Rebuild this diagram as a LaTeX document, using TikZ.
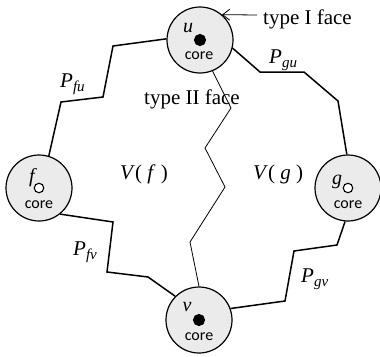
\documentclass[tikz,border=0pt]{standalone}
\usepackage{fontspec}
\setmainfont{Liberation Serif}
\newfontfamily\corefont{Carlito}
\usepackage{tikz}
\usetikzlibrary{arrows.meta}
\definecolor{INK}{RGB}{0,0,0}
\definecolor{CELL}{RGB}{235,235,235}
\newcommand{\pth}[2]{\textit{#1}\raisebox{-4pt}{\fontsize{15}{15}\selectfont\textit{#2}}}

\begin{document}
\begin{tikzpicture}[x=1pt,y=-1pt,font=\fontsize{21}{25}\selectfont,>={Straight Barb[length=7pt,width=11pt]}]
    \tikzset{vtx/.style={circle,draw=INK,line width=1.2pt,fill=CELL,minimum size=66pt,inner sep=0pt},
      nm/.style={inner sep=0pt,font=\fontsize{20}{24}\selectfont\itshape},
      core/.style={inner sep=0pt,font=\corefont\fontsize{16}{18}\selectfont},
      hub/.style={circle,draw=INK,line width=1.1pt,minimum size=9.5pt,inner sep=0pt},
      lbl/.style={inner sep=0pt,anchor=base west},
      pline/.style={draw=INK,line width=1.5pt,line join=miter},
      zig/.style={draw=INK,line width=0.8pt}}
    \useasboundingbox (0,0) rectangle (380,356);
    \node[vtx] (u) at (200,40) {};
    \node[vtx] (f) at (39,188) {};
    \node[vtx] (g) at (348,188) {};
    \node[vtx] (v) at (199,320) {};
    \node[hub,fill=INK,minimum size=11pt] (ud) at (u) {}; \node[hub,fill=white] (fd) at (f) {};
    \node[hub,fill=white] (gd) at (g) {}; \node[hub,fill=INK,minimum size=11pt] (vd) at (v) {};
    \node[nm] (ul) at (188,28) {u}; \node[nm] (fl) at (32,178) {f};
    \node[nm] (gl) at (337,182) {g}; \node[nm] (vl) at (187,307) {v};
    \node[core] (uc) at (199,56) {core}; \node[core] (fc) at (39,205) {core};
    \node[core] (gc) at (348,205) {core}; \node[core] (vc) at (199,337) {core};
    \draw[pline] (f.73) -- (61,102) -- (103,97) -- (113,46) -- (u.178);
    \draw[pline] (u.-14) -- (260,72) -- (304,72) -- (338,101) -- (g.92);
    \draw[pline] (f.-51) -- (113,222) -- (107,272) -- (148,277) -- (v.135);
    \draw[pline] (g.-95) -- (337,245) -- (294,251) -- (285,301) -- (v.20);
    \node[lbl] (pfu) at (60,87) {\pth{P}{fu}};
    \node[lbl] (pgu) at (269,63) {\pth{P}{gu}};
    \node[lbl] (pfv) at (73,255) {\pth{P}{fv}};
    \node[lbl] (pgv) at (301,282) {\pth{P}{gv}};
    \node[lbl] (Vf) at (120,179) {\textit{V}( \textit{f} )};
    \node[lbl] (Vg) at (253,179) {\textit{V}( \textit{g} )};
    \node[lbl] (type2) at (144,104) {type II face};
    \draw[zig] (u.-68) -- (231,108) -- (205,148) -- (225,187) -- (190,242) -- (v.90);
    \node[lbl] (type1) at (263,24) {type I face};
    \coordinate (t1a) at (257,15);
    \draw[->,INK,line width=0.8pt] (t1a) -- (u.49);
  \end{tikzpicture}
\end{document}
